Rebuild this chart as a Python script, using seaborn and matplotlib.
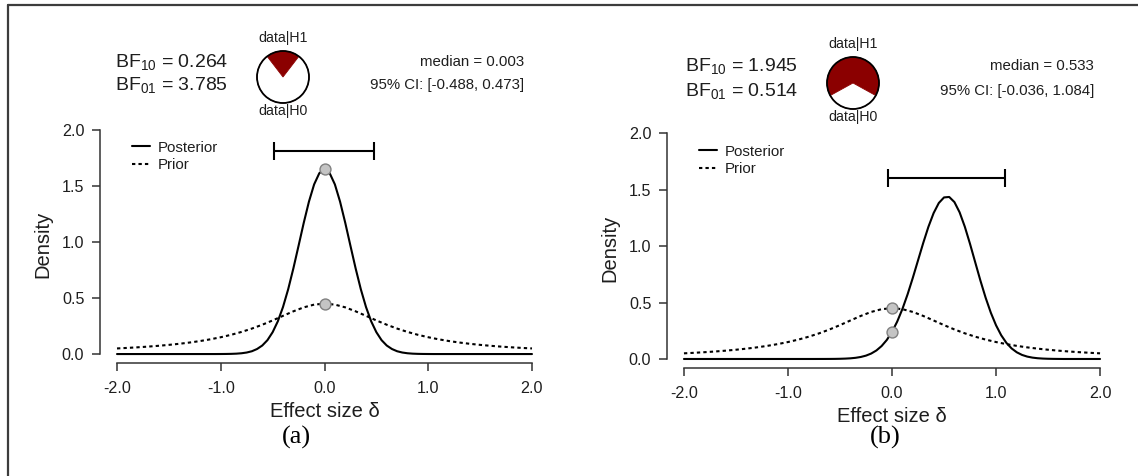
import numpy as np
import matplotlib
matplotlib.use("Agg")
import matplotlib.pyplot as plt
import seaborn as sns
from matplotlib.lines import Line2D
from matplotlib.patches import Circle

sns.set_theme(style="ticks")
plt.rcParams["font.family"] = ["Liberation Sans", "DejaVu Sans"]
plt.rcParams["mathtext.fontset"] = "custom"
plt.rcParams["mathtext.rm"] = "Liberation Sans"
plt.rcParams["mathtext.it"] = "Liberation Sans:italic"
plt.rcParams["mathtext.bf"] = "Liberation Sans:bold"

# ---------------------------------------------------------------- data
# effect size grids for the density curves
delta_fine = np.linspace(-2.0, 2.0, 81)     # step 0.05
delta_coarse = np.linspace(-2.0, 2.0, 41)   # step 0.1

# Cauchy prior on delta (same in both panels)
prior_density = [
    0.0500, 0.0548, 0.0602, 0.0664, 0.0736, 0.0819, 0.0915, 0.1028, 0.1160, 0.1316,
    0.1501, 0.1718, 0.1975, 0.2274, 0.2617, 0.3001, 0.3411, 0.3815, 0.4169, 0.4414,
    0.4502,
    0.4414, 0.4169, 0.3815, 0.3411, 0.3001, 0.2617, 0.2274, 0.1975, 0.1718, 0.1501,
    0.1316, 0.1160, 0.1028, 0.0915, 0.0819, 0.0736, 0.0664, 0.0602, 0.0548, 0.0500,
]

# posterior densities on the fine grid
posterior_a = [0.0] * 20 + [
    0.0003, 0.0007, 0.0016, 0.0034, 0.0070, 0.0135, 0.025, 0.045, 0.076, 0.124,
    0.195, 0.292, 0.420, 0.579, 0.765, 0.967, 1.172, 1.361, 1.515, 1.615,
    1.650,
    1.615, 1.515, 1.361, 1.172, 0.967, 0.765, 0.579, 0.420, 0.292, 0.195,
    0.124, 0.076, 0.045, 0.025, 0.0135, 0.0070, 0.0034, 0.0016, 0.0007, 0.0003,
] + [0.0] * 20

posterior_b = [0.0] * 26 + [
    0.0001, 0.0002, 0.0004, 0.0008, 0.0017, 0.0032, 0.0058, 0.0103, 0.0178, 0.0297,
    0.0481, 0.0754, 0.1146, 0.1685, 0.2400, 0.3313, 0.4428, 0.5733, 0.7190, 0.8734,
    1.0276, 1.1712, 1.2928, 1.3824, 1.4318, 1.4359, 1.3906, 1.2997, 1.1722, 1.0203,
    0.8570, 0.6945, 0.5433, 0.4101, 0.2988, 0.2100, 0.1424, 0.0933, 0.0590, 0.0359,
    0.0211, 0.0120, 0.0066, 0.0035, 0.0018, 0.0009, 0.0004,
] + [0.0] * 8

panel_tags = ["(a)", "(b)"]
bf10_values = [0.264, 1.945]
bf01_values = [3.785, 0.514]
median_values = [0.003, 0.533]
ci_lower = [-0.488, -0.036]
ci_upper = [0.473, 1.084]
posteriors = [posterior_a, posterior_b]

x_ticks = [-2.0, -1.0, 0.0, 1.0, 2.0]
x_tick_labels = ["-2.0", "-1.0", "0.0", "1.0", "2.0"]
y_ticks = [0.0, 0.5, 1.0, 1.5, 2.0]
y_tick_labels = ["0.0", "0.5", "1.0", "1.5", "2.0"]

# ---------------------------------------------------------------- layout (pixels)
W, H, DPI = 1138, 476, 100
INK = "#1e1e1e"
AXC = "#333333"
H1_RED = "#8b0000"

layout = [
    dict(axes=(100, 125.6, 549, 363), xlim=(-2.164, 2.164), ci_y=1.815,
         bf_xy=(115, 62), bf_dy=23, pie_c=(283, 77), pie_r=26,
         sum_x=524, legend_xy=(131.5, 140.5), tag_xy=(296, 437)),
    dict(axes=(667, 128.8, 1117, 368), xlim=(-2.163, 2.163), ci_y=1.60,
         bf_xy=(685, 66), bf_dy=25, pie_c=(853, 83), pie_r=26,
         sum_x=1094, legend_xy=(699, 144.5), tag_xy=(885, 437)),
]


def fx(px):
    return px / W


def fy(py):
    return 1.0 - py / H


fig = plt.figure(figsize=(W / DPI, H / DPI), dpi=DPI)
fig.patch.set_facecolor("white")

for i in range(2):
    L = layout[i]
    l, t, r, b = L["axes"]
    ax = fig.add_axes([fx(l), fy(b), (r - l) / W, (b - t) / H])
    ax.set_facecolor("white")

    post = posteriors[i]
    sns.lineplot(x=delta_fine, y=post, ax=ax, color="black", lw=1.5,
                 label="Posterior")
    sns.lineplot(x=delta_coarse, y=prior_density, ax=ax, color="black", lw=1.5,
                 linestyle=(0, (1.6, 1.5)), label="Prior")

    # credible interval bar around the median
    med = median_values[i]
    ax.errorbar(x=[med], y=[L["ci_y"]],
                xerr=[[med - ci_lower[i]], [ci_upper[i] - med]],
                fmt="none", ecolor="black", elinewidth=1.5,
                capsize=6.5, capthick=1.5)

    # prior and posterior density at delta = 0
    zero_prior = prior_density[20]
    zero_post = post[40]
    sns.scatterplot(x=[0.0, 0.0], y=[zero_prior, zero_post], ax=ax, s=62,
                    color="#c4c4c4", edgecolor="#808080", linewidth=1.0,
                    zorder=6, legend=False)

    ax.set_xlim(*L["xlim"])
    ax.set_ylim(-0.08, 2.04)
    ax.set_xticks(x_ticks)
    ax.set_xticklabels(x_tick_labels)
    ax.set_yticks(y_ticks)
    ax.set_yticklabels(y_tick_labels)
    for side in ("top", "right"):
        ax.spines[side].set_visible(False)
    ax.spines["left"].set_bounds(0.0, 2.0)
    ax.spines["bottom"].set_bounds(-2.0, 2.0)
    for side in ("left", "bottom"):
        ax.spines[side].set_color(AXC)
        ax.spines[side].set_linewidth(1.1)
    ax.tick_params(axis="both", direction="out", length=5.8, width=1.1,
                   color=AXC, labelcolor=INK, labelsize=11.6)
    ax.tick_params(axis="x", pad=7)
    ax.tick_params(axis="y", pad=5.5)
    ax.set_xlabel("Effect size δ", fontsize=14.5, color=INK, labelpad=4.5)
    ax.set_ylabel("Density", fontsize=14.5, color=INK, labelpad=6.5)

    lx, ly = L["legend_xy"]
    ax.legend(loc="upper left", bbox_to_anchor=(fx(lx), fy(ly)),
              bbox_transform=fig.transFigure, frameon=False, fontsize=10.8,
              handlelength=1.2, handletextpad=0.55, labelspacing=0.22,
              borderpad=0, borderaxespad=0, labelcolor=INK)

    # Bayes factor statements
    bx, by = L["bf_xy"]
    fig.text(fx(bx), fy(by), f"$\\mathregular{{BF_{{10}}}}$ = {bf10_values[i]:.3f}",
             fontsize=14, color=INK, ha="left", va="center")
    fig.text(fx(bx), fy(by + L["bf_dy"]),
             f"$\\mathregular{{BF_{{01}}}}$ = {bf01_values[i]:.3f}",
             fontsize=14, color=INK, ha="left", va="center")

    # posterior summary
    sx = L["sum_x"]
    fig.text(fx(sx), fy(by), f"median = {median_values[i]:.3f}", fontsize=10.8,
             color=INK, ha="right", va="center")
    fig.text(fx(sx), fy(by + L["bf_dy"]),
             f"95% CI: [{ci_lower[i]:.3f}, {ci_upper[i]:.3f}]", fontsize=10.8,
             color=INK, ha="right", va="center")

    # pie of data|H1 versus data|H0
    cx, cy = L["pie_c"]
    pr = L["pie_r"]
    pad = 1.08
    half = pr * pad
    pax = fig.add_axes([fx(cx - half), fy(cy + half), 2 * half / W, 2 * half / H])
    p_h1 = bf10_values[i] / (1.0 + bf10_values[i])
    pax.pie([p_h1, 1.0 - p_h1], colors=[H1_RED, "white"],
            startangle=90.0 - 180.0 * p_h1, counterclock=True, radius=1.0,
            wedgeprops=dict(linewidth=0.6, edgecolor=H1_RED))
    pax.add_patch(Circle((0, 0), 1.0, fill=False, edgecolor="black", lw=1.3))
    pax.set_xlim(-pad, pad)
    pax.set_ylim(-pad, pad)
    pax.set_aspect("equal")
    pax.axis("off")
    fig.text(fx(cx), fy(cy - pr - 13), "data|H1", fontsize=10.2, color=INK,
             ha="center", va="center")
    fig.text(fx(cx), fy(cy + pr + 8), "data|H0", fontsize=10.2, color=INK,
             ha="center", va="center")

    tx, ty = L["tag_xy"]
    fig.text(fx(tx), fy(ty), panel_tags[i], fontsize=19, color="black",
             family="Liberation Serif", ha="center", va="center")

# outer frame: top and left rules
fig.add_artist(Line2D([fx(8), 1.0], [fy(5), fy(5)], color="#3c3c3c", lw=1.6,
                      transform=fig.transFigure))
fig.add_artist(Line2D([fx(8), fx(8)], [fy(5), 0.0], color="#3c3c3c", lw=1.6,
                      transform=fig.transFigure))

fig.savefig("out.png", dpi=DPI, facecolor="white")
